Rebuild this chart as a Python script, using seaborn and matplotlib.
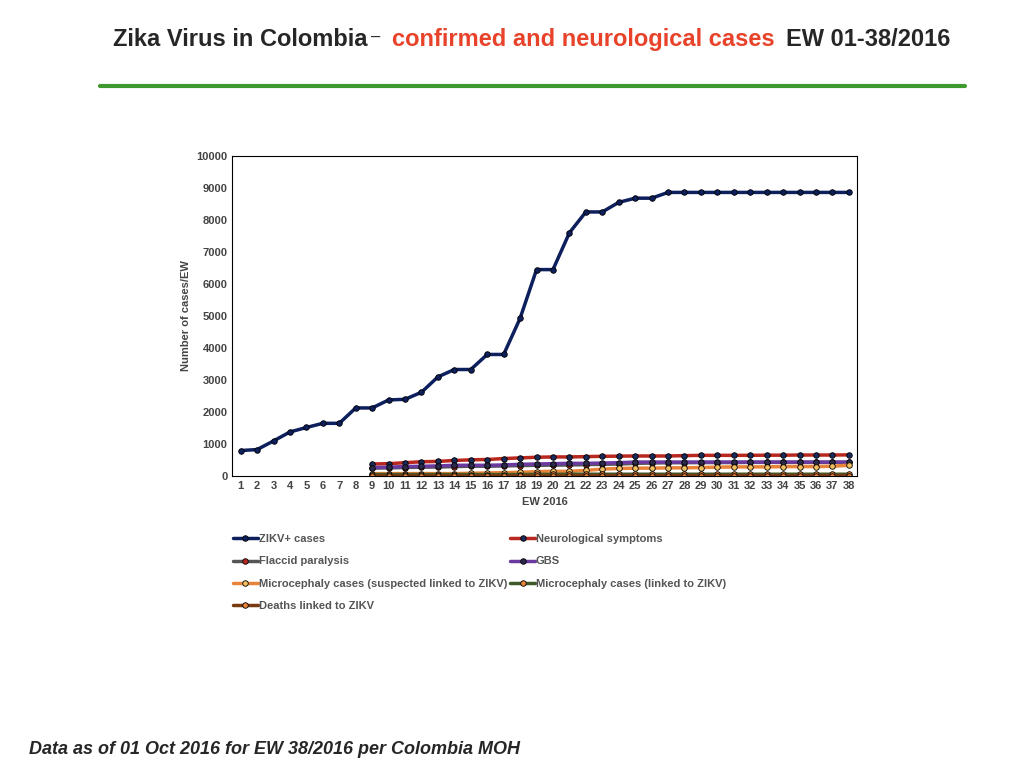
import matplotlib
matplotlib.use("Agg")
import matplotlib.pyplot as plt
import seaborn as sns
import numpy as np

weeks = list(range(1, 39))
late_weeks = list(range(9, 39))

zikv = [800, 830, 1100, 1380, 1520, 1650, 1650, 2130, 2130, 2380, 2400, 2620, 3100,
        3330, 3330, 3800, 3800, 4930, 6450, 6450, 7600, 8250, 8250, 8550, 8680, 8680,
        8860, 8860, 8860, 8860, 8860, 8860, 8860, 8860, 8860, 8860, 8860, 8860]
neuro = [380, 390, 420, 450, 460, 490, 510, 520, 550, 570, 590, 600, 600, 610, 620,
         625, 630, 630, 630, 640, 650, 650, 650, 650, 655, 655, 660, 660, 660, 665]
flaccid = [250, 260, 270, 280, 285, 300, 310, 310, 320, 330, 340, 345, 350, 360, 370,
           380, 400, 410, 420, 420, 425, 425, 425, 430, 430, 430, 430, 430, 430, 430]
gbs = [270, 280, 300, 310, 320, 340, 340, 340, 350, 370, 380, 390, 400, 400, 410,
       420, 440, 440, 440, 440, 440, 440, 440, 440, 440, 440, 440, 440, 440, 440]
micro_susp = [80, 80, 80, 80, 80, 80, 90, 100, 110, 120, 140, 150, 150, 180, 220,
              240, 250, 250, 260, 260, 270, 280, 290, 290, 290, 300, 300, 300, 310, 340]
micro_linked = [50, 50, 50, 50, 50, 50, 50, 50, 50, 50, 55, 55, 60, 60, 60, 60, 60,
                60, 60, 60, 60, 60, 60, 60, 60, 60, 60, 60, 60, 60]
deaths = [10, 10, 10, 10, 10, 10, 10, 10, 10, 10, 10, 10, 10, 20, 20, 20, 20, 20,
          20, 20, 20, 20, 20, 20, 20, 20, 20, 20, 20, 20]

series = [
    ("ZIKV+ cases", weeks, zikv, "#0d1f5c", "#0d1f5c"),
    ("Neurological symptoms", late_weeks, neuro, "#b8281e", "#1a2a5a"),
    ("Flaccid paralysis", late_weeks, flaccid, "#555555", "#b8281e"),
    ("GBS", late_weeks, gbs, "#6a3aa0", "#2a2a4a"),
    ("Microcephaly cases (suspected linked to ZIKV)", late_weeks, micro_susp, "#e8843a", "#f0c060"),
    ("Microcephaly cases (linked to ZIKV)", late_weeks, micro_linked, "#3e5a2a", "#e8843a"),
    ("Deaths linked to ZIKV", late_weeks, deaths, "#7a3a10", "#e8843a"),
]

sns.set_style("white")
plt.rcParams['font.family'] = ['Liberation Sans', 'DejaVu Sans']
fig = plt.figure(figsize=(10.24, 7.68), dpi=100)
ax = fig.add_axes([0.227, 0.38, 0.61, 0.417])

for name, x, y, c, mc in series:
    sns.lineplot(x=x, y=y, ax=ax, color=c, linewidth=2.5, marker="o", markersize=4,
                 markerfacecolor=mc, markeredgecolor="black", markeredgewidth=0.6, label=name)

ax.set_xlim(0.5, 38.5)
ax.set_ylim(0, 10000)
ax.set_xticks(weeks)
ax.set_yticks(range(0, 10001, 1000))
ax.tick_params(labelsize=8, colors="#444444", length=0)
for t in ax.get_xticklabels() + ax.get_yticklabels():
    t.set_fontweight("bold")
ax.set_xlabel("EW 2016", fontsize=8, fontweight="bold", color="#444444")
ax.set_ylabel("Number of cases/EW", fontsize=8, fontweight="bold", color="#444444")
for s in ax.spines.values():
    s.set_color("black")
    s.set_linewidth(0.8)

# legend filled row by row: reorder for matplotlib's column-major fill
handles, labels = ax.get_legend_handles_labels()
order = [0, 2, 4, 6, 1, 3, 5]
leg = ax.legend([handles[i] for i in order], [labels[i] for i in order],
                loc="upper left", bbox_to_anchor=(-0.015, -0.15), ncol=2, frameon=False,
                fontsize=8, handlelength=2.2, handletextpad=0.1, columnspacing=0.3,
                labelspacing=1.1)
for t in leg.get_texts():
    t.set_color("#555555")
    t.set_fontweight("bold")
leg.get_texts()[4].set_text(labels[1] + " " * 70)
leg.get_texts()[4].set_text(labels[1])

fig.text(0.110, 0.94, "Zika Virus in Colombia", fontsize=17, fontweight="bold", ha="left")
fig.text(0.362, 0.946, "–", fontsize=12, ha="left")
fig.text(0.383, 0.94, "confirmed and neurological cases", fontsize=17, fontweight="bold",
         color="#e8432a", ha="left")
fig.text(0.768, 0.94, "EW 01-38/2016", fontsize=17, fontweight="bold", ha="left")
fig.add_artist(plt.Line2D([0.098, 0.942], [0.888, 0.888], color="#3e9a2e", linewidth=3))
fig.text(0.028, 0.018, "Data as of 01 Oct 2016 for EW 38/2016 per Colombia MOH",
         fontsize=13, fontweight="bold", style="italic", ha="left")

fig.savefig("out.png", dpi=100)
